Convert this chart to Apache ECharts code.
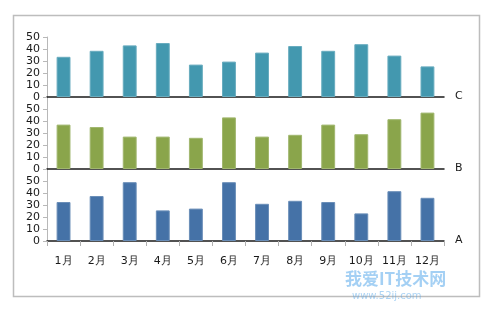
<!DOCTYPE html>
<html><head><meta charset="utf-8">
<script src="https://cdn.jsdelivr.net/npm/echarts@6/dist/echarts.min.js"></script>
<style>html,body{margin:0;padding:0;background:#fff}#c{width:500px;height:311px}</style>
</head><body><div id="c"></div>
<script>
const categories = ['1月','2月','3月','4月','5月','6月','7月','8月','9月','10月','11月','12月'];
const seriesA = [32.5, 37.5, 49, 25.5, 27, 49, 31, 33.5, 32.5, 23, 41.5, 36];
const seriesB = [37, 35, 27, 27, 26, 43, 27, 28.5, 37, 29, 41.5, 47];
const seriesC = [33.5, 38.5, 43, 45, 27, 29.5, 37, 42.5, 38.5, 44, 34.5, 25.5];
const seriesNames = ['C', 'B', 'A'];
const colors = ['#4398AF', '#8AA54B', '#4572A7'];

const chart = echarts.init(document.getElementById('c'));
const font = 'DejaVu Sans, Verdana, sans-serif';
const grids = [
  {left: 47, right: 56, top: 37, height: 60},
  {left: 47, right: 56, top: 97, height: 72},
  {left: 47, right: 56, top: 169, height: 72}
];
const maxes = [50, 60, 60];
const data = [seriesC, seriesB, seriesA];
const xAxes = [], yAxes = [], series = [];
for (let i = 0; i < 3; i++) {
  xAxes.push({
    type: 'category', gridIndex: i, data: categories,
    axisLine: {show: true, lineStyle: {color: '#1a1a1a', width: 1.5}},
    axisTick: {show: i === 2, alignWithLabel: false, length: 5, lineStyle: {color: '#b0b0b0'}},
    axisLabel: {show: i === 2, interval: 0, color: '#1a1a1a', fontSize: 11, fontFamily: font, margin: 15}
  });
  yAxes.push({
    type: 'value', gridIndex: i, min: 0, max: maxes[i], interval: 10,
    splitLine: {show: false},
    axisLine: {show: true, lineStyle: {color: '#b8b8b8'}},
    axisTick: {show: true, length: 4, lineStyle: {color: '#b8b8b8'}},
    axisLabel: {color: '#1a1a1a', fontSize: 11, fontFamily: font, margin: 7,
      formatter: v => (v > 50 ? '' : String(v))}
  });
  series.push({
    type: 'bar', name: seriesNames[i], xAxisIndex: i, yAxisIndex: i,
    data: data[i], barWidth: '42%',
    itemStyle: {color: colors[i], borderColor: echarts.color.lift(colors[i], 0.2), borderWidth: 1},
    animation: false
  });
}
const labelGraphics = seriesNames.map((n, i) => ({
  type: 'text', left: 455, top: [97, 169, 241][i] - 6,
  style: {text: n, fill: '#1a1a1a', font: '11px ' + font}
}));
chart.setOption({
  animation: false,
  grid: grids,
  xAxis: xAxes,
  yAxis: yAxes,
  series: series,
  graphic: [
    {type: 'rect', shape: {x: 13.5, y: 15.5, width: 466, height: 281},
     style: {fill: 'none', stroke: '#bdbdbd', lineWidth: 1.5}, z: -1},
    ...labelGraphics,
    {type: 'text', left: 345, top: 270, style: {text: '我爱IT技术网', fill: 'rgba(90,170,235,0.55)', font: 'bold 17px "Noto Sans CJK SC", sans-serif'}, z: 10},
    {type: 'text', left: 352, top: 291, style: {text: 'www.52ij.com', fill: 'rgba(90,170,235,0.5)', font: '10px ' + font}, z: 10}
  ]
});
</script></body></html>
